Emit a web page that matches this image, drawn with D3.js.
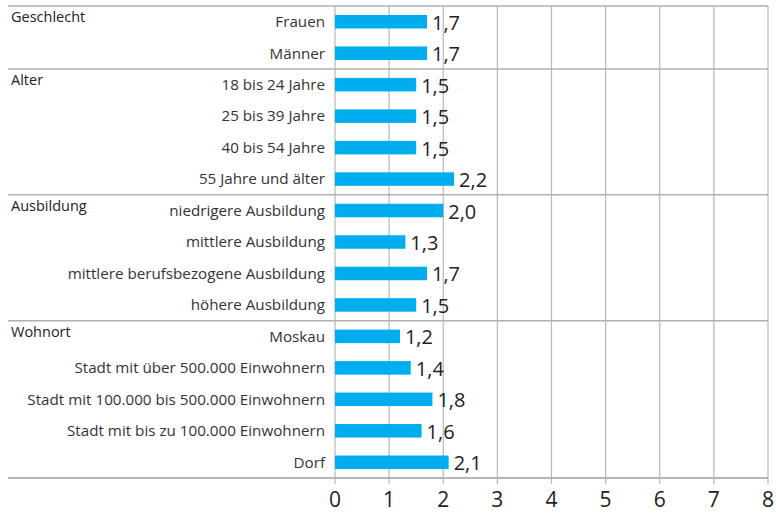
<!DOCTYPE html>
<html>
<head>
<meta charset="utf-8">
<script src="https://cdn.jsdelivr.net/npm/d3@7"></script>
<style>
  body { margin: 0; background: #fff; }
  text { font-family: "Open Sans", sans-serif; }
</style>
</head>
<body>
<script>
var width = 776;
var height = 514;

// data
var groups = ["Geschlecht", "Alter", "Ausbildung", "Wohnort"];
var groupSizes = [2, 4, 4, 5];
var categories = ["Frauen", "Männer",
    "18 bis 24 Jahre", "25 bis 39 Jahre", "40 bis 54 Jahre", "55 Jahre und älter",
    "niedrigere Ausbildung", "mittlere Ausbildung", "mittlere berufsbezogene Ausbildung", "höhere Ausbildung",
    "Moskau", "Stadt mit über 500.000 Einwohnern", "Stadt mit 100.000 bis 500.000 Einwohnern",
    "Stadt mit bis zu 100.000 Einwohnern", "Dorf"];
var values = [1.7, 1.7, 1.5, 1.5, 1.5, 2.2, 2.0, 1.3, 1.7, 1.5, 1.2, 1.4, 1.8, 1.6, 2.1];
var ticks = [0, 1, 2, 3, 4, 5, 6, 7, 8];

// plot edges (window.top is reserved, so no "top")
var plotLeft = 335, plotRight = 768, plotTop = 6, plotBottom = 478, outerLeft = 8;

var svg = d3.select("body").append("svg")
    .attr("width", width)
    .attr("height", height);

var x = d3.scaleLinear().domain([0, 8]).range([plotLeft, plotRight]);
var y = d3.scaleBand().domain(categories).range([plotTop, plotBottom]).paddingInner(0.57).paddingOuter(0.285);

// vertical grid lines
svg.append("g").selectAll("line")
    .data(ticks)
    .enter().append("line")
    .attr("x1", function(d) { return x(d); })
    .attr("x2", function(d) { return x(d); })
    .attr("y1", plotTop)
    .attr("y2", plotBottom + 6)
    .attr("stroke", "#b8b8b8")
    .attr("stroke-width", 1.2);

// group separators
var starts = [0];
groupSizes.forEach(function(n, i) { starts.push(starts[i] + n); });
var rowH = (plotBottom - plotTop) / categories.length;

svg.append("g").selectAll("line")
    .data(starts)
    .enter().append("line")
    .attr("x1", outerLeft)
    .attr("x2", plotRight)
    .attr("y1", function(d) { return plotTop + d * rowH; })
    .attr("y2", function(d) { return plotTop + d * rowH; })
    .attr("stroke", "#b0b0b0")
    .attr("stroke-width", 1.5);

// group labels
svg.append("g").selectAll("text")
    .data(groups)
    .enter().append("text")
    .attr("x", 11)
    .attr("y", function(d, i) { return plotTop + starts[i] * rowH + 16; })
    .attr("font-size", 14.5)
    .attr("fill", "#222")
    .text(function(d) { return d; });

// bars
svg.append("g").selectAll("rect")
    .data(values)
    .enter().append("rect")
    .attr("x", x(0))
    .attr("y", function(d, i) { return y(categories[i]); })
    .attr("width", function(d) { return x(d) - x(0); })
    .attr("height", y.bandwidth())
    .attr("fill", "#00aeef");

// category labels
svg.append("g").selectAll("text")
    .data(categories)
    .enter().append("text")
    .attr("x", plotLeft - 10)
    .attr("y", function(d) { return y(d) + y.bandwidth() / 2; })
    .attr("dy", "0.35em")
    .attr("text-anchor", "end")
    .attr("font-size", 15.2)
    .attr("fill", "#333")
    .text(function(d) { return d; });

// value labels
svg.append("g").selectAll("text")
    .data(values)
    .enter().append("text")
    .attr("x", function(d) { return x(d) + 5; })
    .attr("y", function(d, i) { return y(categories[i]) + y.bandwidth() / 2 + 1; })
    .attr("dy", "0.35em")
    .attr("font-size", 20)
    .attr("fill", "#222")
    .text(function(d) { return d3.format(".1f")(d).replace(".", ","); });

// x axis
svg.append("line")
    .attr("x1", outerLeft).attr("x2", plotRight)
    .attr("y1", plotBottom).attr("y2", plotBottom)
    .attr("stroke", "#b0b0b0")
    .attr("stroke-width", 1.5);

svg.append("g").selectAll("text")
    .data(ticks)
    .enter().append("text")
    .attr("x", function(d) { return x(d); })
    .attr("y", 507)
    .attr("text-anchor", "middle")
    .attr("font-size", 21)
    .attr("fill", "#222")
    .text(function(d) { return d; });
</script>
</body>
</html>
